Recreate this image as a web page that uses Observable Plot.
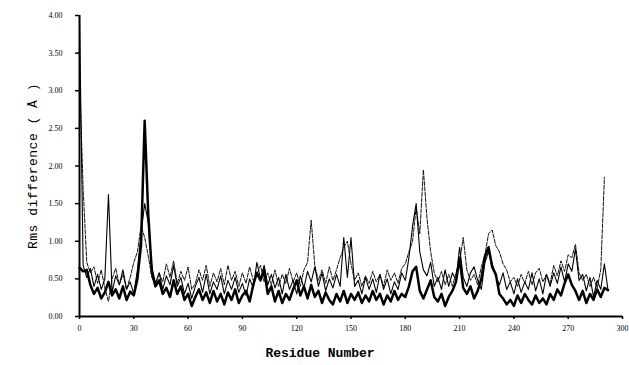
<!DOCTYPE html>
<html>
<head>
<meta charset="utf-8">
<script src="https://cdn.jsdelivr.net/npm/d3@7"></script>
<script src="https://cdn.jsdelivr.net/npm/@observablehq/plot@0.6"></script>
<style>
  html, body { margin: 0; padding: 0; background: #fff; }
  #chart svg { display: block; }
</style>
</head>
<body>
<div id="chart"></div>
<script>
// Residue numbers sampled every 2 residues
const residues = d3.range(0, 294, 2);

// Thick solid series
const thickValues = [
  0.65,0.60,0.62,0.42,0.30,0.38,0.24,0.32,0.46,0.28,
  0.36,0.24,0.40,0.22,0.33,0.28,0.50,0.95,2.60,1.35,
  0.58,0.40,0.48,0.30,0.38,0.26,0.48,0.30,0.40,0.22,
  0.30,0.14,0.26,0.36,0.22,0.32,0.18,0.34,0.20,0.30,
  0.16,0.32,0.22,0.36,0.18,0.28,0.34,0.20,0.42,0.58,
  0.48,0.62,0.30,0.40,0.20,0.34,0.18,0.30,0.22,0.36,
  0.48,0.28,0.40,0.24,0.42,0.26,0.34,0.18,0.32,0.22,
  0.16,0.30,0.20,0.34,0.18,0.30,0.22,0.32,0.18,0.28,
  0.20,0.34,0.22,0.30,0.16,0.28,0.20,0.34,0.22,0.30,
  0.26,0.40,0.60,0.66,0.34,0.24,0.36,0.48,0.26,0.20,
  0.30,0.14,0.26,0.34,0.46,0.78,0.38,0.30,0.40,0.24,
  0.34,0.50,0.80,0.92,0.66,0.56,0.30,0.24,0.16,0.22,
  0.14,0.28,0.18,0.30,0.22,0.16,0.28,0.18,0.24,0.16,
  0.30,0.22,0.36,0.28,0.44,0.56,0.42,0.34,0.22,0.34,
  0.18,0.30,0.22,0.36,0.26,0.38,0.35
];

// Thin solid series
const thinValues = [
  4.00,0.68,0.52,0.64,0.40,0.56,0.36,0.50,1.62,0.32,
  0.54,0.42,0.62,0.36,0.46,0.30,0.62,1.10,1.50,1.25,
  0.66,0.44,0.58,0.36,0.54,0.42,0.68,0.40,0.52,0.30,
  0.44,0.24,0.40,0.52,0.32,0.56,0.30,0.46,0.36,0.54,
  0.30,0.48,0.36,0.52,0.32,0.44,0.28,0.50,0.38,0.72,
  0.50,0.68,0.42,0.56,0.38,0.52,0.30,0.56,0.36,0.48,
  0.30,0.54,0.38,0.60,0.46,0.66,0.40,0.58,0.34,0.50,
  0.38,0.56,0.40,1.05,0.52,1.05,0.40,0.48,0.30,0.52,
  0.36,0.50,0.32,0.56,0.36,0.50,0.30,0.46,0.36,0.58,
  0.48,0.78,1.20,1.50,0.86,0.62,0.54,0.72,0.40,0.52,
  0.36,0.62,0.40,0.58,0.48,0.92,0.52,0.40,0.58,0.66,
  0.48,0.36,0.72,0.86,0.70,0.54,0.42,0.58,0.36,0.46,
  0.30,0.50,0.32,0.46,0.36,0.58,0.34,0.50,0.30,0.56,
  0.40,0.58,0.44,0.66,0.46,0.70,0.60,0.90,0.48,0.56,
  0.34,0.52,0.26,0.48,0.36,0.70,0.35
];

// Dashed series
const dashedValues = [
  3.20,1.70,0.72,0.58,0.66,0.44,0.62,0.38,0.20,0.50,
  0.64,0.42,0.56,0.36,0.52,0.72,0.86,1.20,1.05,0.80,
  0.52,0.42,0.58,0.46,0.70,0.52,0.74,0.44,0.60,0.48,
  0.66,0.36,0.44,0.62,0.48,0.68,0.40,0.58,0.46,0.64,
  0.42,0.68,0.48,0.60,0.40,0.58,0.44,0.66,0.48,0.56,
  0.68,0.46,0.58,0.42,0.62,0.40,0.56,0.44,0.64,0.46,
  0.58,0.40,0.62,0.72,1.28,0.68,0.48,0.62,0.44,0.66,
  0.48,0.62,0.78,0.92,1.00,0.70,0.48,0.58,0.40,0.54,
  0.44,0.60,0.46,0.56,0.40,0.62,0.48,0.58,0.44,0.64,
  0.70,0.86,1.00,1.45,1.10,1.95,1.30,0.86,0.58,0.46,
  0.60,0.42,0.56,0.40,0.58,0.72,1.05,0.62,0.48,0.56,
  0.42,0.66,0.82,1.10,1.15,0.94,0.86,0.70,0.62,0.46,
  0.52,0.40,0.56,0.44,0.60,0.42,0.58,0.64,0.46,0.56,
  0.44,0.68,0.54,0.74,0.60,0.82,0.78,0.96,0.58,0.48,
  0.56,0.40,0.52,0.38,0.62,1.85,null
];

const yTicks = [0, 0.5, 1, 1.5, 2, 2.5, 3, 3.5, 4];
const xTicks = [0, 30, 60, 90, 120, 150, 180, 210, 240, 270, 300];

const toRows = (vals) => residues.map((r, i) => ({r, v: vals[i]}));
const thick = toRows(thickValues);
const thin = toRows(thinValues);
const dashed = toRows(dashedValues);

const chart = Plot.plot({
  width: 629,
  height: 365,
  marginLeft: 79,
  marginRight: 7,
  marginTop: 15,
  marginBottom: 49,
  style: {background: "#fff", color: "#000"},
  x: {domain: [0, 300]},
  y: {domain: [0, 4]},
  marks: [
    Plot.line(dashed, {x: "r", y: "v", stroke: "#111", strokeWidth: 1, strokeDasharray: "4,1.5"}),
    Plot.line(thin, {x: "r", y: "v", stroke: "#000", strokeWidth: 1.1}),
    Plot.line(thick, {x: "r", y: "v", stroke: "#000", strokeWidth: 2.5}),
    Plot.ruleX([0], {stroke: "#000", strokeWidth: 2}),
    Plot.ruleY([0], {stroke: "#000", strokeWidth: 2}),
    Plot.axisY({
      ticks: yTicks, tickSize: 4, tickPadding: 13, tickFormat: d3.format(".2f"),
      fontSize: 8, fontFamily: "Liberation Serif", strokeWidth: 1.5,
      label: "Rms difference ( Å )", labelAnchor: "center", labelOffset: 52,
      labelArrow: "none"
    }),
    Plot.axisX({
      ticks: xTicks, tickSize: 3, tickPadding: 6, tickFormat: d3.format("d"),
      fontSize: 8, fontFamily: "Liberation Serif", strokeWidth: 1.5,
      label: null
    }),
    Plot.text(["Residue Number"], {
      frameAnchor: "bottom", dx: -31, dy: 40,
      fontFamily: "Liberation Mono", fontSize: 13, fontWeight: "bold",
      textAnchor: "middle", fill: "#000"
    })
  ]
});

// style the y axis label (courier-like)
chart.querySelectorAll("g[aria-label='y-axis label'] text").forEach(t => {
  t.setAttribute("font-family", "Liberation Mono");
  t.setAttribute("font-size", "13");
  t.setAttribute("letter-spacing", "0.5");
});
document.getElementById("chart").appendChild(chart);
</script>
</body>
</html>
